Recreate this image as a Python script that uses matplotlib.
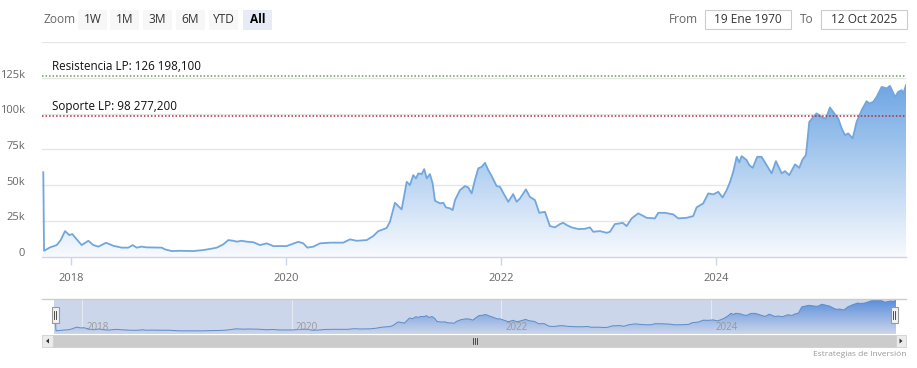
import matplotlib
matplotlib.use('Agg')
import matplotlib.pyplot as plt
import numpy as np
from matplotlib.patches import Rectangle, Polygon
from matplotlib.transforms import ScaledTranslation

plt.rcParams['font.family'] = ['Open Sans', 'DejaVu Sans']

# ---------------- data ----------------
years = [2017.745, 2017.752, 2017.808, 2017.870, 2017.907, 2017.947, 2017.987, 2018.015,
         2018.056, 2018.102, 2018.164, 2018.210, 2018.257, 2018.328, 2018.396, 2018.474,
         2018.535, 2018.576, 2018.613, 2018.660, 2018.706, 2018.846, 2018.876, 2018.939,
         2019.016, 2019.139, 2019.232, 2019.295, 2019.357, 2019.418, 2019.465, 2019.511,
         2019.543, 2019.589, 2019.636, 2019.697, 2019.759, 2019.822, 2019.883, 2020.007,
         2020.115, 2020.162, 2020.199, 2020.255, 2020.317, 2020.410, 2020.533, 2020.596,
         2020.658, 2020.751, 2020.812, 2020.859, 2020.905, 2020.937, 2020.967, 2021.014,
         2021.045, 2021.076, 2021.123, 2021.153, 2021.184, 2021.209, 2021.231, 2021.262,
         2021.286, 2021.309, 2021.339, 2021.364, 2021.386, 2021.432, 2021.463, 2021.488,
         2021.525, 2021.550, 2021.572, 2021.618, 2021.665, 2021.695, 2021.727, 2021.757,
         2021.788, 2021.820, 2021.851, 2021.881, 2021.913, 2021.959, 2021.990, 2022.020,
         2022.067, 2022.113, 2022.145, 2022.176, 2022.231, 2022.268, 2022.315, 2022.355,
         2022.408, 2022.454, 2022.501, 2022.547, 2022.578, 2022.610, 2022.656, 2022.718,
         2022.780, 2022.826, 2022.857, 2022.919, 2022.981, 2023.012, 2023.058, 2023.105,
         2023.130, 2023.167, 2023.214, 2023.275, 2023.307, 2023.353, 2023.430, 2023.461,
         2023.523, 2023.600, 2023.647, 2023.725, 2023.786, 2023.818, 2023.879, 2023.926,
         2023.972, 2024.019, 2024.059, 2024.097, 2024.127, 2024.158, 2024.190, 2024.214,
         2024.236, 2024.283, 2024.307, 2024.339, 2024.381, 2024.422, 2024.468, 2024.515,
         2024.555, 2024.608, 2024.639, 2024.679, 2024.732, 2024.772, 2024.803, 2024.834,
         2024.865, 2024.896, 2024.933, 2024.958, 2024.989, 2025.020, 2025.057, 2025.104,
         2025.134, 2025.166, 2025.197, 2025.227, 2025.268, 2025.305, 2025.352, 2025.398,
         2025.423, 2025.460, 2025.491, 2025.538, 2025.584, 2025.615, 2025.662, 2025.692,
         2025.724, 2025.739, 2025.764]
prices = [59000, 4000, 6400, 8000, 11500, 17800, 15000, 15700,
          12000, 8000, 11000, 8000, 6900, 9600, 7500, 6200,
          6200, 8000, 6200, 6900, 6400, 6200, 5000, 3800,
          4000, 3800, 4500, 5300, 6200, 8500, 11500, 11000,
          10400, 11000, 10400, 10000, 8000, 9200, 7300, 7300,
          10300, 9200, 6200, 6900, 9200, 9700, 9700, 12000,
          11000, 11500, 14300, 17800, 19000, 20000, 24300, 37600,
          35300, 33000, 52300, 50000, 57000, 54700, 58200, 57700,
          61200, 54700, 57700, 51200, 39000, 37200, 37600, 34400,
          33700, 32500, 39500, 46500, 49300, 48400, 44200, 53500,
          61700, 62800, 65600, 60500, 56300, 49300, 48800, 44600,
          38300, 43700, 38300, 40700, 47000, 41800, 39500, 30600,
          31300, 21300, 20400, 22700, 23600, 22000, 20400, 19200,
          19400, 20400, 17300, 17800, 16600, 17300, 22700, 23200,
          23600, 21300, 26700, 30200, 29000, 27100, 26700, 30600,
          30600, 29500, 26700, 27100, 28300, 34400, 37200, 44200,
          43500, 45300, 41300, 46500, 51900, 59300, 69800, 65900,
          70300, 67500, 64000, 62100, 69800, 69800, 64000, 58200,
          66800, 58200, 59800, 57000, 64500, 62100, 68000, 71000,
          94300, 97100, 100200, 99000, 97100, 96700, 104400, 99500,
          96700, 89700, 85000, 86200, 82700, 94300, 102500, 108800,
          107200, 108300, 111800, 118800, 117700, 119500, 111800, 115300,
          116500, 114200, 120000]

support_level = 98277.2
resistance_level = 126198.1
support_label = 'Soporte LP: 98 277,200'
resistance_label = 'Resistencia LP: 126 198,100'
year_ticks = [2018, 2020, 2022, 2024]
y_ticks = [0, 25000, 50000, 75000, 100000, 125000, 150000]
y_tick_labels = ['0', '25k', '50k', '75k', '100k', '125k', '']
zoom_buttons = ['1W', '1M', '3M', '6M', 'YTD', 'All']
date_from = '19 Ene 1970'
date_to = '12 Oct 2025'
credit = 'Estrategias de Inversión'

# ---------------- layout helpers ----------------
W, H = 917, 368
fig = plt.figure(figsize=(W / 100, H / 100), dpi=100)


def box(x0, y0, x1, y1):
    return [x0 / W, 1 - y1 / H, (x1 - x0) / W, (y1 - y0) / H]


def fx(x):
    return x / W


def fy(y):
    return 1 - y / H


def frect(x0, y0, x1, y1, **kw):
    r = Rectangle((fx(x0), fy(y1)), (x1 - x0) / W, (y1 - y0) / H,
                  transform=fig.transFigure, **kw)
    fig.add_artist(r)
    return r


xmin, xmax = 2017.733, 2025.764
line_color = '#72a7de'
top_col = np.array([0.43, 0.65, 0.89])
bot_col = np.array([0.97, 0.98, 0.995])

# ---------------- main axes ----------------
ax = fig.add_axes(box(42, 42.3, 906, 256.5))
ax.set_xlim(xmin, xmax)
ax.set_ylim(0, 150000)
for s in ['top', 'right', 'left']:
    ax.spines[s].set_visible(False)
ax.spines['bottom'].set_color('#ccd6eb')
ax.spines['bottom'].set_linewidth(1)

ax.set_yticks(y_ticks)
ax.set_yticklabels(y_tick_labels)
ax.tick_params(axis='y', length=0, pad=12, labelsize=8, labelcolor='#666666')
for lab in ax.get_yticklabels():
    lab.set_transform(lab.get_transform() + ScaledTranslation(0, 4.5 / 100, fig.dpi_scale_trans))
ax.grid(axis='y', color='#e6e6e6', linewidth=1)
ax.set_axisbelow(True)

ax.set_xticks(year_ticks)
ax.set_xticklabels([str(y) for y in year_ticks])
ax.tick_params(axis='x', length=6, width=1, color='#ccd6eb', pad=6,
               labelsize=8, labelcolor='#666666')

# gradient area
pmax = max(prices)
g = np.linspace(0, 1, 256)[:, None]
img = (bot_col[None, :] * (1 - g) + top_col[None, :] * g)[:, None, :]
im = ax.imshow(img, origin='lower', extent=[xmin, xmax, 0, pmax], aspect='auto', zorder=1)
poly = ax.fill_between(years, prices, 0, facecolor='none', edgecolor='none')
im.set_clip_path(poly.get_paths()[0], transform=ax.transData)
ax.set_xlim(xmin, xmax)
ax.set_ylim(0, 150000)
ax.plot(years, prices, color=line_color, linewidth=1.3, zorder=3, solid_joinstyle='round')

# plot lines
ax.axhline(resistance_level, color='#6e9a5e', linestyle=(0, (1, 1.3)), linewidth=1.1, zorder=4)
ax.axhline(support_level, color='#b8283c', linestyle=(0, (1, 1.3)), linewidth=1.1, zorder=4)
ax.annotate(resistance_label, xy=(10 / 864, resistance_level), xycoords=('axes fraction', 'data'),
            xytext=(0, 2.5), textcoords='offset points', fontsize=8.4, color='#111111',
            ha='left', va='bottom', zorder=5)
ax.annotate(support_label, xy=(10 / 864, support_level), xycoords=('axes fraction', 'data'),
            xytext=(0, 2.5), textcoords='offset points', fontsize=8.4, color='#111111',
            ha='left', va='bottom', zorder=5)

# ---------------- top controls ----------------
fig.text(fx(43), fy(19.5), 'Zoom', fontsize=8.6, color='#666666', ha='left', va='center')
btn_x = [78, 110, 143, 176, 209, 243]
for i, (label, bx) in enumerate(zip(zoom_buttons, btn_x)):
    sel = label == 'All'
    frect(bx, 10, bx + 29, 30, facecolor='#e6ebf5' if sel else '#f7f7f7', edgecolor='none')
    fig.text(fx(bx + 14.5), fy(19.5), label, fontsize=8.6,
             color='#000000' if sel else '#333333', fontweight='bold' if sel else 'normal',
             ha='center', va='center')

fig.text(fx(698), fy(19.5), 'From', fontsize=8.6, color='#666666', ha='right', va='center')
frect(705, 10, 791, 29, facecolor='white', edgecolor='#cccccc', linewidth=0.8)
fig.text(fx(748), fy(19.5), date_from, fontsize=8.6, color='#333333', ha='center', va='center')
fig.text(fx(814), fy(19.5), 'To', fontsize=8.6, color='#666666', ha='right', va='center')
frect(821, 10, 907, 29, facecolor='white', edgecolor='#cccccc', linewidth=0.8)
fig.text(fx(864), fy(19.5), date_to, fontsize=8.6, color='#333333', ha='center', va='center')

# ---------------- navigator ----------------
nav = fig.add_axes(box(54, 299, 896, 334))
nav.set_xlim(xmin, xmax)
nav.set_ylim(-8000, 124000)
nav.set_facecolor('#ccd6eb')
for s in nav.spines.values():
    s.set_visible(False)
nav.set_yticks([])
nav.set_xticks(year_ticks)
nav.tick_params(axis='x', length=0, labelbottom=False)
nav.grid(axis='x', color='#e4e8f0', linewidth=0.8)
nav.set_axisbelow(True)
ntop = np.array([0.36, 0.56, 0.86])
nbot = np.array([0.80, 0.84, 0.92])
img2 = (nbot[None, :] * (1 - g) + ntop[None, :] * g)[:, None, :]
im2 = nav.imshow(img2, origin='lower', extent=[xmin, xmax, -8000, pmax], aspect='auto', zorder=1)
poly2 = nav.fill_between(years, prices, -8000, facecolor='none', edgecolor='none')
im2.set_clip_path(poly2.get_paths()[0], transform=nav.transData)
nav.set_xlim(xmin, xmax)
nav.set_ylim(-8000, 124000)
nav.plot(years, prices, color='#5b8cc8', linewidth=0.7, zorder=3)
for yv in year_ticks:
    nav.annotate(str(yv), xy=(yv, 0), xycoords=('data', 'axes fraction'), xytext=(3, 1),
                 textcoords='offset points', fontsize=7, color='#999999', ha='left', va='bottom',
                 zorder=5)

# navigator outline
fig.add_artist(plt.Line2D([fx(42), fx(906)], [fy(298.5), fy(298.5)], transform=fig.transFigure,
                          color='#cccccc', linewidth=1))

# handles
for hx in (55, 894):
    frect(hx - 3.5, 307, hx + 3.5, 323, facecolor='#f2f2f2', edgecolor='#999999', linewidth=0.8)
    for dx in (-1, 1):
        fig.add_artist(plt.Line2D([fx(hx + dx), fx(hx + dx)], [fy(311), fy(319)],
                                  transform=fig.transFigure, color='#333333', linewidth=0.6))

# scrollbar
frect(42, 335, 906, 347, facecolor='#f2f2f2', edgecolor='#f2f2f2', linewidth=0.5)
frect(53, 335, 896, 347, facecolor='#cccccc', edgecolor='#cccccc', linewidth=0.5)
frect(42, 335, 53, 347, facecolor='#ebebeb', edgecolor='#cccccc', linewidth=0.5)
frect(896, 335, 906, 347, facecolor='#ebebeb', edgecolor='#cccccc', linewidth=0.5)
fig.add_artist(Polygon([[fx(49), fy(338.5)], [fx(49), fy(343.5)], [fx(46), fy(341)]], closed=True,
                       transform=fig.transFigure, facecolor='#333333', edgecolor='none'))
fig.add_artist(Polygon([[fx(899.5), fy(338.5)], [fx(899.5), fy(343.5)], [fx(902.5), fy(341)]],
                       closed=True, transform=fig.transFigure, facecolor='#333333', edgecolor='none'))
for dx in (-2, 0, 2):
    fig.add_artist(plt.Line2D([fx(474.5 + dx), fx(474.5 + dx)], [fy(338), fy(344)],
                              transform=fig.transFigure, color='#333333', linewidth=0.6))

# credits
fig.text(fx(906), fy(354), credit, fontsize=6, color='#999999', ha='right', va='center')

fig.savefig('out.png', dpi=100)
